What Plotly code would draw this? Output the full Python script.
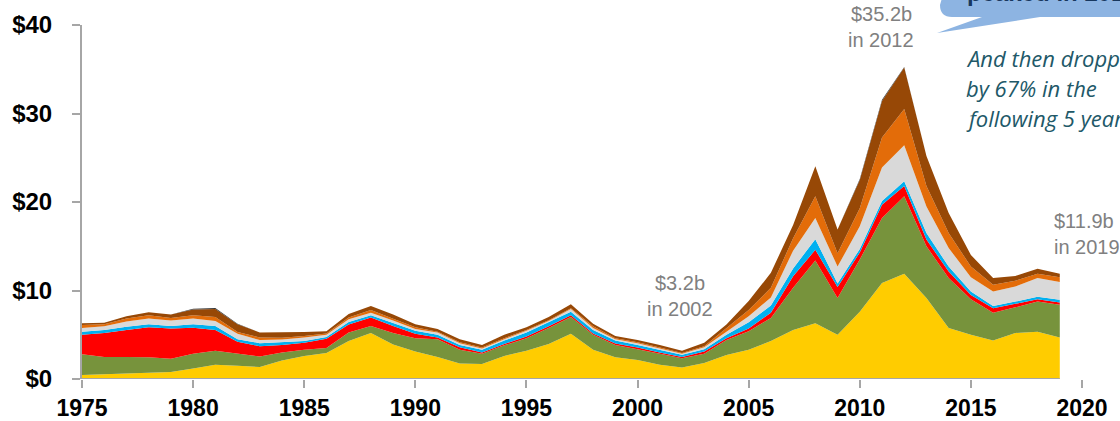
import plotly.graph_objects as go

years = list(range(1975, 2020))

yellow = [0.45, 0.55, 0.6, 0.7, 0.8, 1.2, 1.6, 1.5, 1.35, 2.1, 2.6, 2.95, 4.3, 5.2, 3.9, 3.1, 2.5, 1.75, 1.7, 2.6,
          3.2, 3.95, 5.1, 3.3, 2.45, 2.15, 1.6, 1.3, 1.8, 2.7, 3.3, 4.3, 5.55, 6.3, 5.0, 7.6, 10.85, 11.9, 9.15, 5.75,
          5.0, 4.35, 5.2, 5.35, 4.7]
olive = [2.35, 1.95, 1.9, 1.75, 1.5, 1.65, 1.6, 1.4, 1.2, 0.9, 0.7, 0.55, 0.95, 0.8, 1.3, 1.5, 2.0, 1.55, 1.15, 1.2,
         1.4, 1.8, 1.9, 1.7, 1.4, 1.2, 1.25, 1.05, 1.05, 1.7, 2.1, 2.6, 4.75, 7.1, 4.15, 5.9, 7.35, 8.75, 5.85, 5.65,
         4.0, 3.15, 2.9, 3.4, 3.7]
red = [2.2, 2.7, 3.05, 3.4, 3.4, 2.95, 2.35, 1.3, 1.15, 0.85, 0.8, 1.05, 0.9, 0.95, 0.8, 0.5, 0.2, 0.3, 0.15, 0.15,
       0.2, 0.2, 0.2, 0.15, 0.15, 0.2, 0.15, 0.15, 0.25, 0.2, 0.3, 0.6, 1.3, 1.2, 1.25, 0.8, 1.5, 1.15, 0.75, 0.75,
       0.5, 0.5, 0.4, 0.25, 0.25]
cyan = [0.35, 0.35, 0.35, 0.35, 0.3, 0.4, 0.45, 0.3, 0.35, 0.3, 0.2, 0.2, 0.3, 0.25, 0.3, 0.35, 0.3, 0.25, 0.3, 0.4,
        0.45, 0.45, 0.4, 0.4, 0.35, 0.3, 0.3, 0.25, 0.25, 0.4, 0.7, 0.8, 0.9, 1.2, 0.4, 0.4, 0.4, 0.55, 0.75, 0.55,
        0.4, 0.25, 0.25, 0.3, 0.3]
gray = [0.4, 0.4, 0.6, 0.65, 0.6, 0.65, 0.55, 0.6, 0.35, 0.3, 0.4, 0.25, 0.3, 0.3, 0.3, 0.2, 0.25, 0.2, 0.15, 0.15,
        0.2, 0.15, 0.3, 0.2, 0.15, 0.2, 0.15, 0.1, 0.25, 0.35, 0.7, 0.9, 2.0, 2.4, 1.9, 2.55, 3.8, 4.05, 3.0, 2.1,
        1.6, 1.65, 1.7, 2.1, 2.0]
orange = [0.35, 0.25, 0.35, 0.35, 0.3, 0.35, 0.45, 0.2, 0.3, 0.2, 0.15, 0.15, 0.2, 0.3, 0.2, 0.2, 0.1, 0.1, 0.1, 0.1,
          0.1, 0.1, 0.1, 0.2, 0.1, 0.1, 0.1, 0.1, 0.1, 0.4, 0.7, 1.1, 1.4, 2.45, 1.5, 2.05, 3.4, 4.1, 2.3, 1.7,
          1.2, 0.75, 0.65, 0.5, 0.55]
brown = [0.2, 0.15, 0.25, 0.35, 0.4, 0.65, 0.9, 0.9, 0.55, 0.6, 0.45, 0.25, 0.4, 0.45, 0.5, 0.35, 0.3, 0.35, 0.3, 0.4,
         0.3, 0.35, 0.45, 0.3, 0.25, 0.25, 0.3, 0.25, 0.4, 0.4, 1.0, 1.7, 1.5, 3.4, 2.7, 3.2, 4.1, 4.7, 3.4, 2.25,
         1.3, 0.75, 0.55, 0.55, 0.4]
dark = [0, 0, 0, 0, 0, 0.1, 0.12, 0.05, 0, 0, 0, 0, 0, 0, 0, 0, 0, 0, 0, 0,
        0, 0, 0, 0, 0, 0, 0, 0, 0, 0, 0, 0, 0, 0, 0, 0.1, 0.15, 0.05, 0, 0,
        0, 0, 0, 0, 0]

series = [
    ("Segment 1", yellow, "#FFCC00"),
    ("Segment 2", olive, "#77933C"),
    ("Segment 3", red, "#FF0000"),
    ("Segment 4", cyan, "#00B0F0"),
    ("Segment 5", gray, "#D9D9D9"),
    ("Segment 6", orange, "#E36C09"),
    ("Segment 7", brown, "#974806"),
    ("Segment 8", dark, "#3A3A3A"),
]

tick_years = [1975, 1980, 1985, 1990, 1995, 2000, 2005, 2010, 2015, 2020]
y_ticks = [0, 10, 20, 30, 40]
y_labels = ["$0", "$10", "$20", "$30", "$40"]

fig = go.Figure()
for name, vals, col in series:
    fig.add_trace(go.Scatter(
        x=years, y=vals, name=name, mode="lines", stackgroup="one",
        line=dict(width=0, color=col), fillcolor=col, hoverinfo="skip",
    ))

x_font = dict(size=23, color="black", family="Liberation Sans, Arial, sans-serif", weight="bold")
y_font = dict(size=24, color="black", family="Liberation Sans, Arial, sans-serif", weight="bold")
fig.update_layout(
    width=1120, height=421,
    margin=dict(l=82, r=38, t=25, b=42, autoexpand=False),
    paper_bgcolor="white", plot_bgcolor="white",
    showlegend=False,
    font=dict(family="Liberation Sans, Arial, sans-serif"),
)
fig.update_xaxes(
    range=[1975, 2020], tickvals=tick_years, ticktext=[str(t) for t in tick_years],
    showgrid=False, zeroline=False, showline=False, automargin=False,
    ticks="outside", ticklen=8, tickcolor="#A6A6A6", tickwidth=2,
    ticklabelstandoff=0,
    tickfont=x_font,
)
fig.update_yaxes(
    range=[0, 40], tickvals=y_ticks, ticktext=y_labels,
    showgrid=False, zeroline=False, showline=True, linecolor="#A6A6A6", linewidth=2,
    automargin=False,
    ticks="outside", ticklen=8, tickcolor="#A6A6A6", tickwidth=2,
    ticklabelstandoff=15,
    tickfont=y_font,
)

# x axis baseline spanning the data years
fig.add_shape(type="line", xref="x", yref="y", x0=years[0], x1=years[-1], y0=0, y1=0,
              line=dict(color="#A6A6A6", width=2), layer="above")


def px(xp):
    return (xp - 82) / 1000.0


def py(yp):
    return (379 - yp) / 354.0


# callout bubble (top right, cropped)
bubble = (f"M {px(950)},{py(-30)} L {px(1140)},{py(-30)} L {px(1140)},{py(17)} "
          f"L {px(1040)},{py(17)} L {px(937)},{py(33)} L {px(982)},{py(17)} "
          f"L {px(952)},{py(17)} Q {px(940)},{py(17)} {px(940)},{py(5)} Z")
fig.add_shape(type="path", xref="paper", yref="paper", path=bubble,
              fillcolor="#8DB4E2", line=dict(width=0), layer="above")

ann_font = dict(family="Liberation Sans, Arial, sans-serif", size=20, color="#808080")
notes = [
    ("$3.2b", 680, 283, "center"),
    ("in 2002", 680, 309, "center"),
    ("$35.2b", 881, 14, "center"),
    ("in 2012", 881, 40, "center"),
    ("$11.9b", 1052, 221, "left"),
    ("in 2019", 1052, 247, "left"),
]
for txt, x, y, anc in notes:
    fig.add_annotation(text=txt, xref="paper", yref="paper", x=px(x), y=py(y),
                       xanchor=anc, yanchor="middle", showarrow=False, font=ann_font)

ital = dict(family="Open Sans, sans-serif", size=22, color="#215868", style="italic")
for txt, y in [("And then dropped", 58), ("by 67% in the", 88), ("following 5 years", 118)]:
    fig.add_annotation(text=txt, xref="paper", yref="paper", x=px(964), y=py(y),
                       xanchor="left", yanchor="middle", showarrow=False, font=ital)

fig.add_annotation(text="<b>peaked in 2012</b>", xref="paper", yref="paper", x=px(965), y=py(-8),
                   xanchor="left", yanchor="middle", showarrow=False,
                   font=dict(family="Liberation Sans, Arial, sans-serif", size=24, color="#17375E"))

fig.write_html("out.html", config={"displayModeBar": False},
               post_script="document.body.style.margin='0';document.body.style.overflow='hidden';")
